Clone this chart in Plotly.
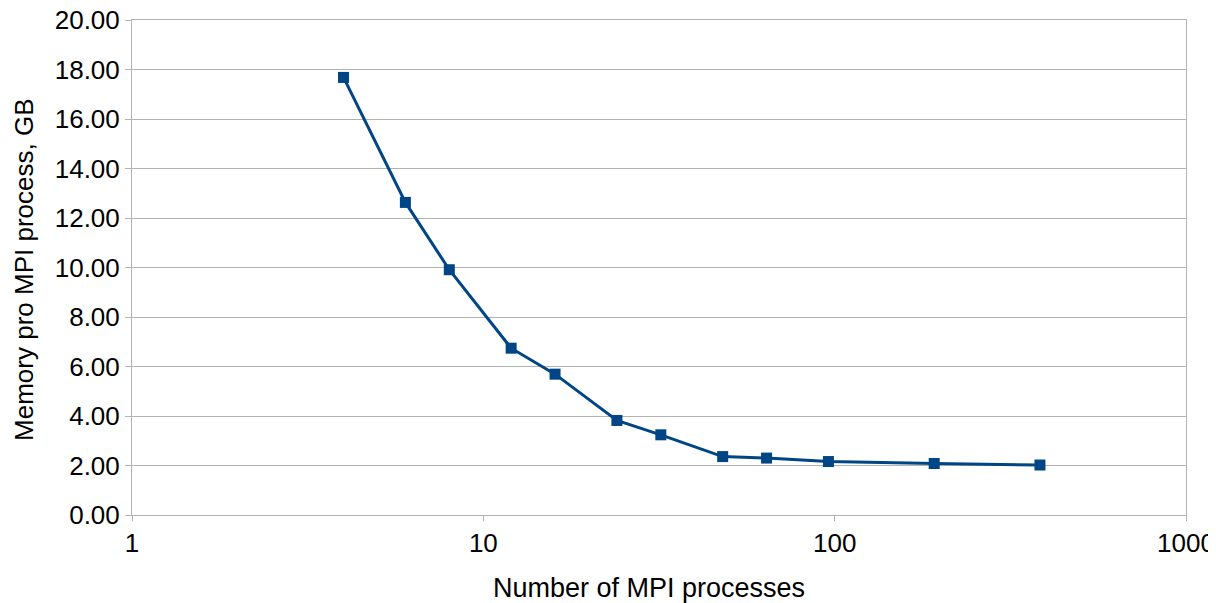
import plotly.graph_objects as go

processes = [4, 6, 8, 12, 16, 24, 32, 48, 64, 96, 192, 384]
memory_gb = [17.68, 12.63, 9.91, 6.74, 5.69, 3.82, 3.24, 2.36, 2.30, 2.16, 2.08, 2.02]

x_tickvals = [1, 10, 100, 1000]
x_ticktext = ["1", "10", "100", "1000"]

fig = go.Figure()
fig.add_trace(go.Scatter(
    x=processes, y=memory_gb, mode="lines+markers",
    line=dict(color="#004586", width=3),
    marker=dict(symbol="square", size=11, color="#004586"),
    showlegend=False, cliponaxis=False,
))

font = dict(family="Liberation Sans, Arial, sans-serif", size=26, color="#000000")
title_font = dict(family="Liberation Sans, Arial, sans-serif", size=27, color="#000000")

# page has an 8px body margin; compensate so the plot area lands at x 132-1186, y 20-515
fig.update_layout(
    width=1208, height=595,
    margin=dict(l=124, r=30, t=12, b=88),
    paper_bgcolor="white", plot_bgcolor="white",
    font=font,
    xaxis=dict(
        type="log", range=[0, 3], automargin=False, ticklabeloverflow="allow",
        tickvals=x_tickvals, ticktext=x_ticktext,
        showgrid=False, showline=True, linecolor="#b3b3b3", linewidth=1, mirror=True,
        ticks="outside", ticklen=5, tickcolor="#b3b3b3",
        zeroline=False,
    ),
    yaxis=dict(
        range=[0, 20], dtick=2, tickformat=".2f", automargin=False, ticklabeloverflow="allow",
        showgrid=True, gridcolor="#b3b3b3", gridwidth=1,
        showline=True, linecolor="#b3b3b3", linewidth=1, mirror=True,
        ticks="outside", ticklen=6, tickcolor="#b3b3b3",
        zeroline=False,
    ),
    annotations=[
        dict(text="Number of MPI processes", xref="paper", yref="paper",
             x=0.4905, y=-0.148, xanchor="center", yanchor="middle",
             showarrow=False, font=title_font),
        dict(text="Memory pro MPI process, GB", xref="paper", yref="paper",
             x=-0.1025, y=0.495, xanchor="center", yanchor="middle",
             textangle=-90, showarrow=False, font=font),
    ],
)

fig.write_html("out.html")
